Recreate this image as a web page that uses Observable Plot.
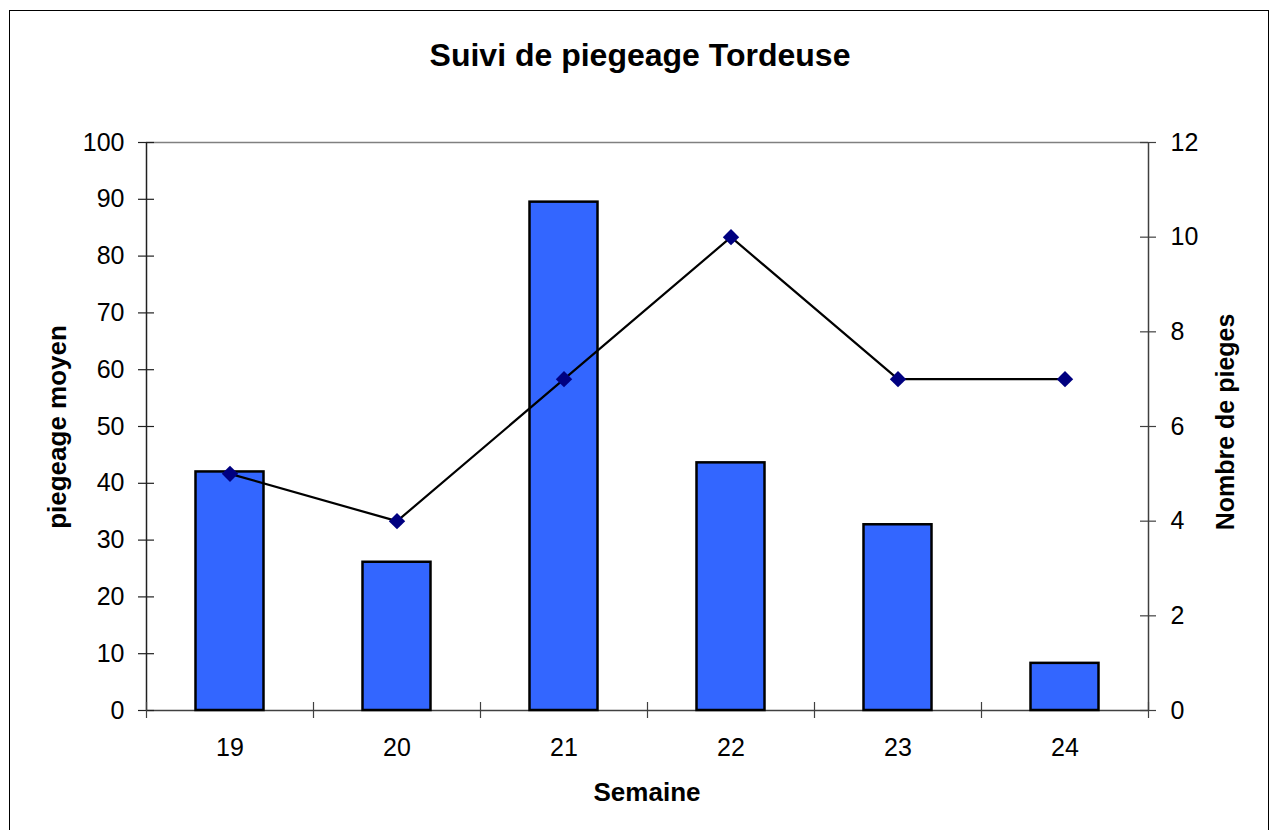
<!DOCTYPE html>
<html><head><meta charset="utf-8">
<script src="https://cdn.jsdelivr.net/npm/d3@7"></script>
<script src="https://cdn.jsdelivr.net/npm/@observablehq/plot@0.6"></script>
<style>
html,body{margin:0;padding:0;background:#fff;}
#wrap{position:relative;width:1276px;height:830px;overflow:hidden;background:#fff;}
#border{position:absolute;left:9px;top:10px;width:1260px;height:850px;border:1.5px solid #000;box-sizing:border-box;pointer-events:none;}
</style></head>
<body><div id="wrap"><div id="chart"></div><div id="border"></div></div>
<script>
// ---- data ----
const weeks = [19, 20, 21, 22, 23, 24];
const piegeageMoyen = [42, 26.1, 89.5, 43.6, 32.7, 8.3];
const nombrePieges = [5, 4, 7, 10, 7, 7];
const leftTicks = [0, 10, 20, 30, 40, 50, 60, 70, 80, 90, 100];
const rightTicks = [0, 2, 4, 6, 8, 10, 12];
const titleText = "Suivi de piegeage Tordeuse";
const xTitle = "Semaine";
const yLeftTitle = "piegeage moyen";
const yRightTitle = "Nombre de pieges";

// ---- derived ----
const leftMax = 100, rightMax = 12;
const toLeft = v => v * leftMax / rightMax;
const rows = weeks.map((w, i) => ({week: w, moyen: piegeageMoyen[i], pieges: nombrePieges[i]}));
const xMin = weeks[0] - 0.5, xMax = weeks[weeks.length - 1] + 0.5;
const boundaries = [...weeks.map(w => w - 0.5), xMax];
const barHalf = 0.2036;
const diamond = {draw(ctx, size) {
  const h = Math.sqrt(size / Math.PI);
  ctx.moveTo(0, -h); ctx.lineTo(h, 0); ctx.lineTo(0, h); ctx.lineTo(-h, 0); ctx.closePath();
}};
const FONT = '"Liberation Sans", Arial, Helvetica, sans-serif';

const plot = Plot.plot({
  width: 1276, height: 830,
  marginLeft: 146, marginRight: 128, marginTop: 142, marginBottom: 120,
  x: {type: "linear", domain: [xMin, xMax]},
  y: {domain: [0, leftMax]},
  style: {fontFamily: FONT, fontSize: "25px", color: "#000", background: "transparent"},
  marks: [
    Plot.ruleY([leftMax], {stroke: "#808080", strokeWidth: 1.5}),
    Plot.ruleY([0], {stroke: "#404040", strokeWidth: 1.5}),
    Plot.ruleX([xMin], {stroke: "#202020", strokeWidth: 1.5}),
    Plot.ruleX([xMax], {stroke: "#404040", strokeWidth: 1.5}),
    Plot.ruleY(leftTicks, {x1: xMin, x2: xMin, insetLeft: 8, insetRight: 8, stroke: "#202020", strokeWidth: 1.2}),
    Plot.ruleY(rightTicks.map(toLeft), {x1: xMax, x2: xMax, insetLeft: 8, insetRight: 8, stroke: "#404040", strokeWidth: 1.2}),
    Plot.ruleX(boundaries, {y1: 0, y2: 0, insetTop: 8, insetBottom: 8, stroke: "#404040", strokeWidth: 1.2}),
    Plot.rectY(rows, {x1: d => d.week - barHalf, x2: d => d.week + barHalf, y1: 0, y2: "moyen", fill: "#3366FF", stroke: "#000", strokeWidth: 2.5}),
    Plot.line(rows, {x: "week", y: d => toLeft(d.pieges), stroke: "#000", strokeWidth: 2.2}),
    Plot.dot(rows, {x: "week", y: d => toLeft(d.pieges), symbol: diamond, r: 8.2, fill: "#000080", stroke: "none"}),
    Plot.axisX({ticks: weeks, tickSize: 0, tickPadding: 28, tickFormat: d => String(d), label: null, fontSize: 25}),
    Plot.axisY({anchor: "left", ticks: leftTicks, tickSize: 0, tickPadding: 22, label: null, fontSize: 25}),
    Plot.axisY({anchor: "right", ticks: rightTicks.map(toLeft), tickFormat: d => String(Math.round(d * rightMax / leftMax)), tickSize: 0, tickPadding: 22, label: null, fontSize: 25})
  ]
});
document.getElementById("chart").appendChild(plot);

const svg = d3.select(plot);
const addText = (txt, x, y, size, rotate) => {
  svg.append("text")
    .attr("transform", `translate(${x},${y})` + (rotate ? ` rotate(${rotate})` : ""))
    .attr("text-anchor", "middle")
    .attr("font-family", FONT)
    .attr("font-weight", "bold")
    .attr("font-size", size)
    .attr("fill", "#000")
    .text(txt);
};
addText(titleText, 640, 66, 32);
addText(xTitle, 647, 801, 26);
addText(yLeftTitle, 66, 427, 26, -90);
addText(yRightTitle, 1234, 422, 25, -90);
</script>
</body></html>
